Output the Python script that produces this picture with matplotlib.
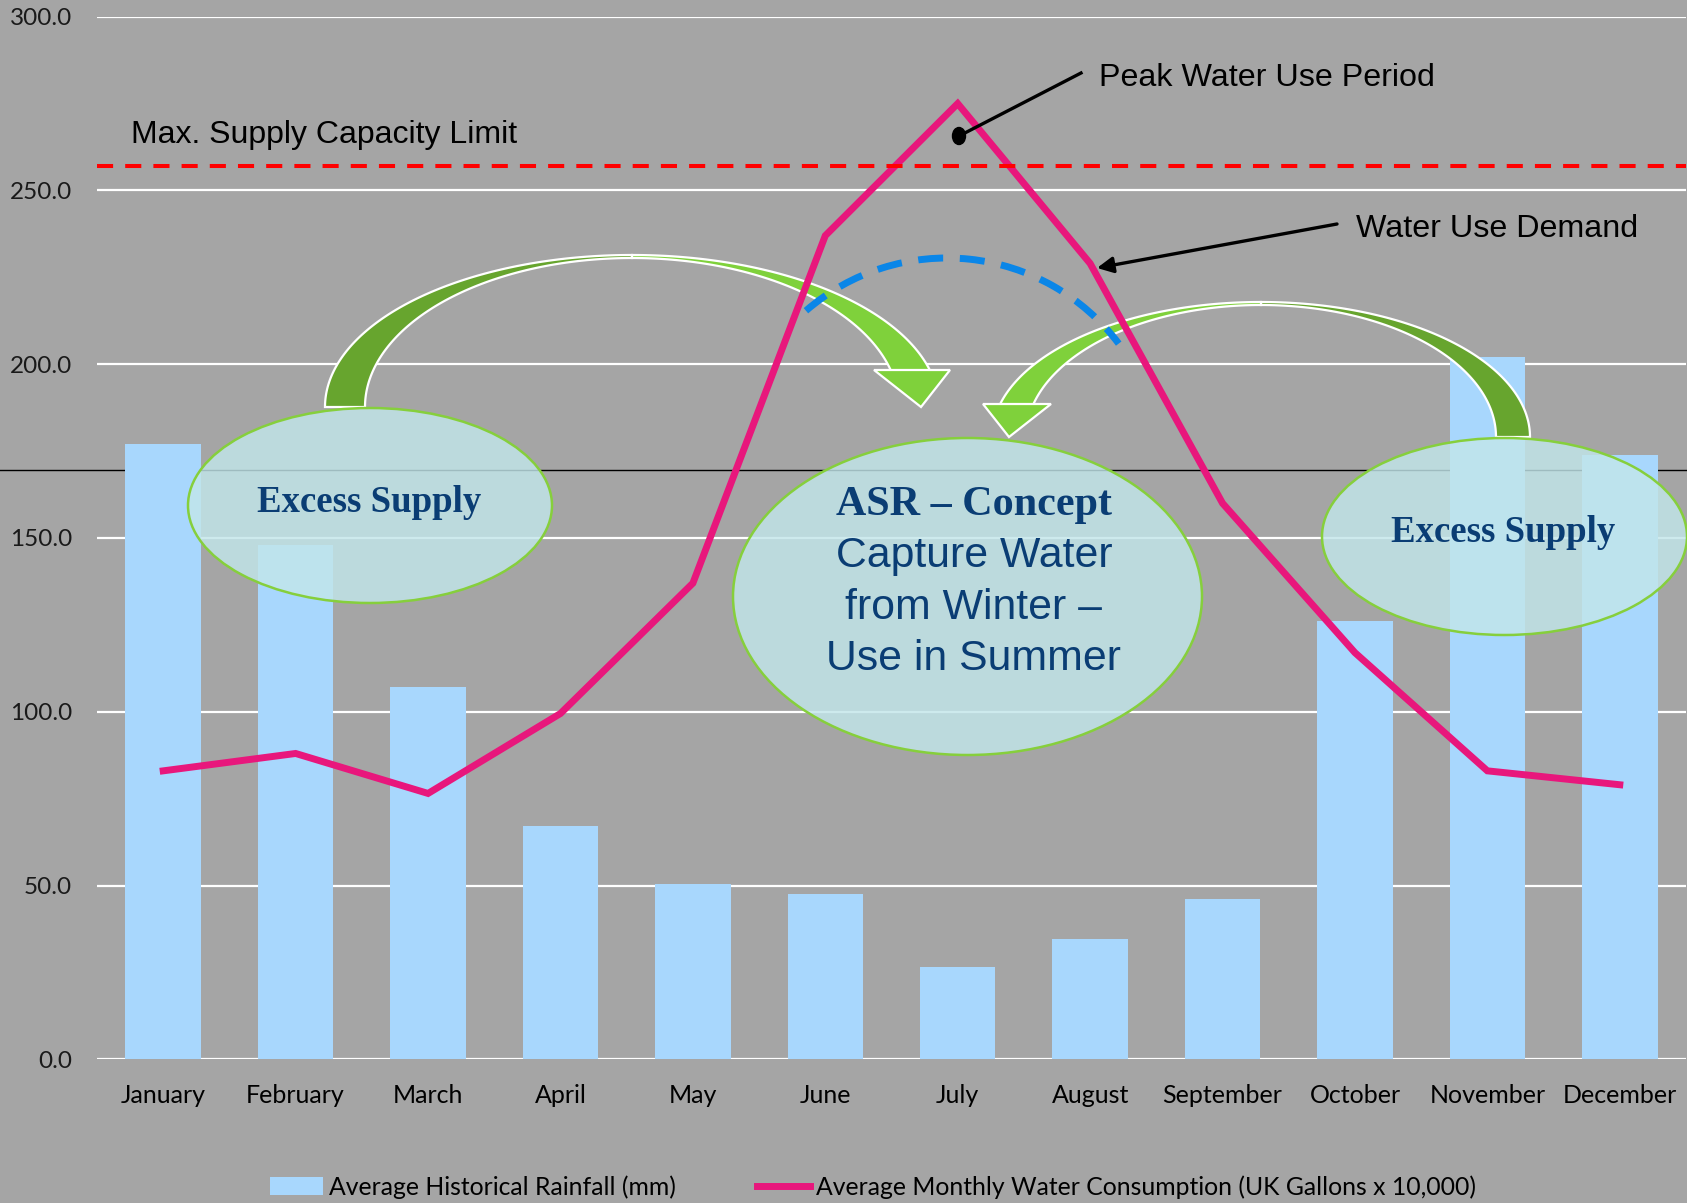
import numpy as np
import matplotlib
matplotlib.use("Agg")
import matplotlib.pyplot as plt
import matplotlib.transforms as mtransforms
from matplotlib.patches import Polygon, Ellipse, Arc, Patch
from matplotlib.lines import Line2D

# ---------------- data ----------------
months = ["January", "February", "March", "April", "May", "June", "July",
          "August", "September", "October", "November", "December"]
rainfall_mm = [177, 148, 107, 67, 50.5, 47.5, 26.5, 34.5, 46, 126, 202, 174]
consumption = [83, 88, 76.5, 99.5, 137, 237, 275, 229, 160, 117, 83, 79]
max_capacity = 257
ref_level = 169.5
yticks = [0, 50, 100, 150, 200, 250, 300]
legend_labels = ["Average Historical Rainfall (mm)",
                 "Average Monthly Water Consumption (UK Gallons x 10,000)"]

# ---------------- style ----------------
W, H = 1687, 1203
BG = "#A5A5A5"
BAR = "#A8D7FD"
PINK = "#E8177C"
NAVY = "#0A3D74"
DARKG = "#67A52E"
LIGHTG = "#7FD13B"

fig = plt.figure(figsize=(W / 100, H / 100), dpi=100, facecolor=BG)
ax = fig.add_axes([97 / W, (H - 1059.3) / H, (1686 - 97) / W, (1059.3 - 16.7) / H])
ax.set_facecolor(BG)
px = mtransforms.Affine2D().scale(1 / W, -1 / H).translate(0, 1) + fig.transFigure

x = np.arange(len(months))
ax.set_xlim(-0.5, 11.5)
ax.set_ylim(0, 300)
for s in ax.spines.values():
    s.set_visible(False)
ax.set_yticks(yticks)
ax.set_yticklabels([f"{v:.1f}" for v in yticks], fontsize=17.5, family="Lato", color="#1a1a1a")
ax.set_xticks(x)
ax.set_xticklabels(months, fontsize=18, family="Lato", color="black")
ax.tick_params(length=0)
ax.tick_params(axis="y", pad=18)
ax.tick_params(axis="x", pad=18)
for v in yticks:
    ax.axhline(v, color="white", lw=1.6, zorder=0.5)

# thin black reference line spanning the figure
ax.axhline(ref_level, xmin=-0.07, xmax=1.01, color="black", lw=1.0, zorder=1, clip_on=False)

bars = ax.bar(x, rainfall_mm, width=0.57, color=BAR, zorder=2, label=legend_labels[0])

# green curved arrows (decorative shapes, pixel coords)
def band(cx, cy, ao, bo, ai, bi, t0, t1, n=120):
    t = np.linspace(t0, t1, n)
    outer = np.c_[cx + ao * np.cos(t), cy - bo * np.sin(t)]
    tr = t[::-1]
    inner = np.c_[cx + ai * np.cos(tr), cy - bi * np.sin(tr)]
    return np.vstack([outer, inner])

def add_poly(pts, color):
    ax.add_patch(Polygon(pts, closed=True, facecolor=color, edgecolor="white",
                         lw=1.6, transform=px, zorder=3, clip_on=False))

# left arrow (January/February -> July)
add_poly(band(632, 407, 307, 152, 267, 149, np.pi, np.pi / 2), DARKG)
add_poly(band(632, 407, 307, 152, 267, 149, np.pi / 2, 0.245), LIGHTG)
add_poly([(874, 370), (950, 370), (921, 407)], LIGHTG)
# right arrow (November -> August)
add_poly(band(1261, 437, 269, 135, 235, 132, 0, np.pi / 2), DARKG)
add_poly(band(1261, 437, 269, 135, 235, 132, np.pi / 2, np.pi - 0.247), LIGHTG)
add_poly([(983, 404), (1051, 404), (1009, 437)], LIGHTG)

line, = ax.plot(x, consumption, color=PINK, lw=5, zorder=4, label=legend_labels[1],
                solid_joinstyle="miter")

# blue dashed arc
ax.add_patch(Arc((947, 473), 430, 430, theta1=-131, theta2=-37, transform=px,
                 color="#0A86E8", lw=5, linestyle=(0, (3.6, 2.4)), zorder=4))

# max capacity line
ax.axhline(max_capacity, color="#FF0000", lw=2.9, linestyle=(0, (4, 3)), zorder=4.5)
ax.text(131, 134.5, "Max. Supply Capacity Limit", transform=px, fontsize=23,
        family="Liberation Sans", va="center", ha="left", color="black", zorder=6)

# ellipses
for (cx, cy, w, h) in [(370, 505.5, 364, 195), (967.5, 596.5, 469, 317), (1504.5, 536.5, 365, 197)]:
    ax.add_patch(Ellipse((cx, cy), w, h, transform=px, facecolor="#C2E6EA", alpha=0.82,
                         edgecolor="none", zorder=5, clip_on=False))
    ax.add_patch(Ellipse((cx, cy), w, h, transform=px, facecolor="none",
                         edgecolor="#86CF3C", lw=1.8, zorder=5.1, clip_on=False))

ax.text(369, 502, "Excess Supply", transform=px, fontsize=26.5, family="Liberation Serif",
        weight="bold", color=NAVY, ha="center", va="center", zorder=6)
ax.text(1503, 532.5, "Excess Supply", transform=px, fontsize=26.5, family="Liberation Serif",
        weight="bold", color=NAVY, ha="center", va="center", zorder=6)
ax.text(974, 504.6, "ASR – Concept", transform=px, fontsize=30.3, family="Liberation Serif",
        weight="bold", color=NAVY, ha="center", va="center", zorder=6)
for yy, s in [(556, "Capture Water"), (608, "from Winter –"), (658.5, "Use in Summer")]:
    ax.text(974, yy, s, transform=px, fontsize=30.8, family="Liberation Sans",
            color=NAVY, ha="center", va="center", zorder=6)

# peak annotation
ax.add_line(Line2D([1081, 959], [73, 136], transform=px, color="black", lw=2.4, zorder=6))
ax.add_patch(Ellipse((959, 136), 13, 17, transform=px, color="black", zorder=6))
ax.text(1099, 78, "Peak Water Use Period", transform=px, fontsize=23.2,
        family="Liberation Sans", va="center", ha="left", color="black", zorder=6)

# water use demand arrow
ax.annotate("", xy=(1097, 268), xytext=(1337, 224), xycoords=px, textcoords=px,
            arrowprops=dict(arrowstyle="-|>", mutation_scale=24, lw=2.4, color="black",
                            shrinkA=0, shrinkB=0), zorder=6)
ax.text(1356, 229, "Water Use Demand", transform=px, fontsize=23.2,
        family="Liberation Sans", va="center", ha="left", color="black", zorder=6)

# legend
handles = [Patch(facecolor=BAR, edgecolor="none"), Line2D([], [], color=PINK, lw=5)]
fig.legend(handles, legend_labels, loc="center", bbox_to_anchor=(873 / W, 1 - 1187 / H),
           ncol=2, frameon=False, prop=dict(family="Lato", size=17.8), handlelength=2.15,
           handletextpad=0.22, columnspacing=3.3)

fig.savefig("out.png", dpi=100, facecolor=BG)
